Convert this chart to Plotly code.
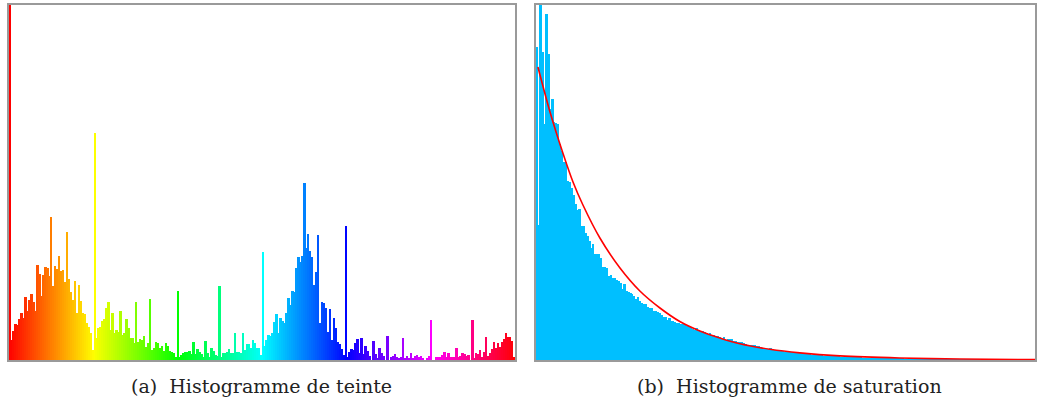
import colorsys
import plotly.graph_objects as go

# ---------------- data ----------------
# Hue histogram: 256 bins (relative heights)
hue_counts = (
    [400]
    + [20, 29, 36, 35, 41, 47, 42, 63, 49, 60]
    + [66, 58, 49, 95, 86, 64, 85, 93, 92, 84]
    + [143, 74, 94, 91, 104, 89, 90, 78, 128, 81]
    + [68, 60, 79, 47, 75, 59, 47, 46, 37, 33, 27, 10]
    + [227]
    + [22, 32, 33, 39, 41, 52, 58, 30, 47, 27]
    + [30, 28, 49, 25, 27, 41, 32, 22, 22, 17]
    + [58, 18, 21, 20, 24, 13, 17, 61, 10, 12]
    + [18, 17, 12, 14, 9, 17, 14, 9, 8, 7, 3]
    + [69]
    + [3, 5, 7, 8, 8, 9, 6, 18, 6, 11]
    + [8, 6, 3, 19, 7, 3, 12, 9, 5, 4]
    + [74, 3, 7, 7, 8, 11, 7, 7, 27, 8]
    + [8, 7, 27, 10, 16, 16, 12, 20, 17, 12]
    + [12, 5, 108, 14, 20, 25, 24, 27, 38, 46]
    + [27, 42, 39, 37, 47, 62, 55, 69, 68, 92]
    + [103, 98, 104, 177, 112, 126, 109, 103, 75, 88]
    + [125, 37, 58, 57, 52, 28, 51, 20, 42, 32]
    + [18, 16, 11, 5, 134]
    + [3, 8, 11, 10, 17, 21, 7, 22, 6, 14]
    + [9, 4, 0, 19, 6, 2, 12, 7, 4, 0]
    + [24, 0, 3, 4, 6, 3, 2, 3, 22, 2]
    + [4, 2, 7, 2, 4, 5, 3, 4, 2, 0]
    + [2, 4, 40, 0, 0, 3, 3, 3, 5, 8]
    + [3, 7, 3, 3, 3, 12, 3, 4, 7, 6]
    + [4, 5, 0, 40, 2, 7, 6, 10, 3, 8]
    + [23, 4, 7, 11, 18, 12, 17, 13, 18, 21]
    + [27, 23, 23, 19, 3]
)
hue_bins = list(range(len(hue_counts)))

# Saturation histogram: 256 bins
sat_counts = (
    [313, 135, 360, 308, 236, 346, 306, 251, 261, 238]
    + [237, 236, 216, 209, 198, 198, 179, 178, 172, 165]
    + [156, 150, 151, 134, 134, 127, 124, 119, 112, 116]
    + [106, 106, 106, 102, 93, 93, 92, 84, 85, 82]
    + [82, 80, 79, 77, 71, 76, 69, 68, 67, 66]
    + [64, 61, 63, 59, 57, 56, 56, 53, 52, 52]
    + [49, 49, 48, 47]
    + [45, 43, 43, 40, 42, 39, 39, 38, 37, 37]
    + [36, 36, 36, 34, 34, 33, 31, 30, 32, 29]
    + [29, 29, 28, 27, 25, 27, 24, 25, 24, 24]
    + [23, 21, 23, 20, 21, 21, 21, 19, 19, 18]
    + [18, 18, 17, 16, 15, 15, 15, 15, 15, 14]
    + [14, 13, 12, 12, 11, 11, 12, 11, 10, 10]
    + [10, 9, 9, 8, 8, 8, 8, 8, 8, 8]
    + [8, 7, 7, 6]
    + [6, 6, 6, 5, 5, 5, 5, 5, 5, 4]
    + [4, 4, 4, 4, 4, 4, 4, 4, 3, 3]
    + [3, 3, 3, 3, 3, 3, 3, 3, 3, 2]
    + [2, 2, 2, 2, 2, 2, 2, 2, 2, 2]
    + [2, 2, 2, 2, 1.5, 1.5, 1.5, 1.5, 1.5, 1.5]
    + [1.5, 1, 1, 1, 1, 1, 1, 1, 1, 1]
    + [1, 1, 1, 1, 1, 1, 1, 0.5, 0.5, 0.5]
    + [0.5, 0.5, 0.5, 0.5, 0.5, 0.5, 0.5, 0.5, 0.5, 0.5]
    + [0.5, 0.5, 0.5, 0.5, 0.5, 0.3, 0.3, 0.3, 0.3, 0.3]
    + [0.3, 0.3, 0.3, 0.3, 0.3, 0.3, 0.3, 0.3, 0.3, 0.3]
    + [0.3, 0.3, 0.2, 0.2, 0.2, 0.2, 0.2, 0.2, 0.2, 0.2]
    + [0.2, 0.2, 0.2, 0.2, 0.2, 0.2, 0.2, 0.2]
)
sat_bins = list(range(len(sat_counts)))

# Fitted curve on the saturation histogram
curve_x = [0.5, 6.7, 13.3, 18.5, 23.6, 32.3, 42.6, 52.8, 63.1, 73.3, 83.6,
           93.8, 104.1, 119.5, 134.9, 155.4, 186, 217, 255.5]
curve_y = [293, 248, 207, 178, 155, 122, 92, 69, 52, 38.5, 29,
           22, 16.2, 10.7, 7.1, 4.1, 2.0, 1.0, 0.4]

captions = ["(a)\u00a0\u00a0Histogramme de teinte",
            "(b)\u00a0\u00a0Histogramme de saturation"]

# ---------------- figure ----------------
W, H = 1037, 403
n = len(hue_counts)
hue_colors = []
for i in range(n):
    r, g, b = colorsys.hsv_to_rgb(i / n, 1.0, 1.0)
    hue_colors.append("rgb(%d,%d,%d)" % (round(r * 255), round(g * 255), round(b * 255)))

fig = go.Figure()
fig.add_trace(go.Bar(x=hue_bins, y=hue_counts, marker=dict(color=hue_colors, line=dict(width=0)),
                     xaxis="x", yaxis="y", showlegend=False, hoverinfo="skip"))
fig.add_trace(go.Bar(x=sat_bins, y=sat_counts, marker=dict(color="#00BFFF", line=dict(width=0)),
                     xaxis="x2", yaxis="y2", showlegend=False, hoverinfo="skip"))
fig.add_trace(go.Scatter(x=curve_x, y=curve_y, mode="lines",
                         line=dict(color="#FF0000", width=1.6, shape="spline", smoothing=0.8),
                         xaxis="x2", yaxis="y2", showlegend=False, hoverinfo="skip"))

def px_x(v):
    return v / W

def px_y(v):
    return (H - v) / H

ydom = [px_y(360), px_y(5)]
axis_common = dict(showgrid=False, zeroline=False, showticklabels=False, ticks="",
                   showline=True, mirror=True, linecolor="#9a9a9a", linewidth=1.5)

fig.update_layout(
    width=W, height=H,
    margin=dict(l=0, r=0, t=0, b=0),
    paper_bgcolor="white", plot_bgcolor="white",
    bargap=0,
    xaxis=dict(domain=[px_x(9), px_x(516)], range=[-0.5, n - 0.5], **axis_common),
    yaxis=dict(domain=ydom, range=[0, 355], **axis_common),
    xaxis2=dict(domain=[px_x(537), 1.0], range=[-0.5, len(sat_counts) - 0.5], anchor="y2", **axis_common),
    yaxis2=dict(domain=ydom, range=[0, 355], anchor="x2", **axis_common),
    annotations=[
        dict(text=captions[0], x=px_x(262.5), y=px_y(386), xref="paper", yref="paper",
             showarrow=False, xanchor="center", yanchor="middle",
             font=dict(family="DejaVu Serif", size=19, color="#222222")),
        dict(text=captions[1], x=px_x(791), y=px_y(386), xref="paper", yref="paper",
             showarrow=False, xanchor="center", yanchor="middle",
             font=dict(family="DejaVu Serif", size=19, color="#222222")),
    ],
)

fig.write_html("out.html", config={"displayModeBar": False},
               post_script="document.body.style.margin='0';document.body.style.overflow='hidden';")
